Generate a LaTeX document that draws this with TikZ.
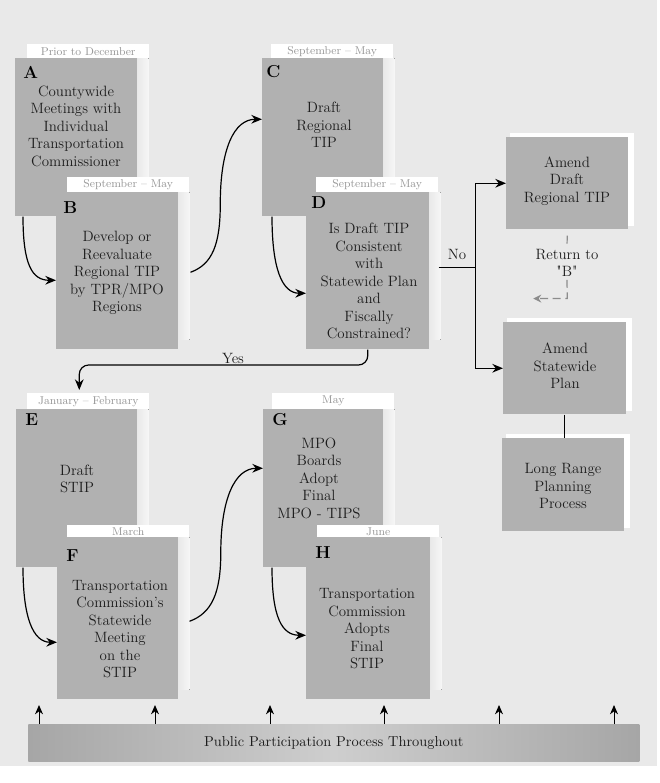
\documentclass[tikz,border=0pt]{standalone}
\usetikzlibrary{arrows.meta,calc}
\definecolor{bg}{RGB}{233,233,233}
\definecolor{boxgray}{RGB}{177,177,177}
\definecolor{txt}{RGB}{28,28,28}
\definecolor{tabtxt}{RGB}{150,150,150}
\definecolor{retgray}{RGB}{140,140,140}
\definecolor{bardark}{RGB}{166,166,166}
\definecolor{barlight}{RGB}{206,206,206}
\newcommand\rightglow[1]{\fill[shad] (#1.north east) rectangle ($(#1.south east)+(11,-10)$);}
\newcommand\backglow[1]{\fill[white] ($(#1.north west)+(4,-4)$) rectangle ($(#1.south east)+(5,-4)$);}
\begin{document}
\begin{tikzpicture}[x=0.75pt,y=-0.75pt,
  pbox/.style={fill=boxgray,draw=none,inner sep=0pt,anchor=north west},
  ptab/.style={fill=white,inner sep=0pt,anchor=north west,minimum width=91.5pt,text=tabtxt,font=\fontsize{8.5}{9}\selectfont},
  plabel/.style={font=\bfseries\fontsize{13}{15}\selectfont,text=black,inner sep=0pt,anchor=west},
  ptext/.style={align=center,inner sep=0pt,text=txt,font=\fontsize{11.2}{13.1}\selectfont},
  shad/.style={left color=bg,right color=white!60!bg,draw=none},
  arr/.style={-{Stealth[length=8pt,width=6.5pt]},line width=0.9pt,black},
  uparr/.style={-{Stealth[length=7pt,width=6pt]},line width=0.7pt,black},
  retline/.style={retgray,line width=0.9pt,dash pattern=on 6pt off 3.5pt}]
\useasboundingbox (0,0) rectangle (660,783);
\fill[bg] (0,0) rectangle (657,766);

% A
\node[ptab,minimum height=10.5pt] (At) at (27,44) {Prior to December};
\node[pbox,minimum width=91.5pt,minimum height=118.5pt] (A) at (15,58) {};
\rightglow{A}
\node[plabel] (la) at (23,72) {A};
\node[ptext] (Atx) at (76,126) {Countywide\\Meetings with\\Individual\\Transportation\\Commissioner};
% B
\node[ptab,minimum height=11.25pt] (Bt) at (67,177) {September -- May};
\node[pbox,minimum width=91.5pt,minimum height=117.75pt] (B) at (56,192) {};
\rightglow{B}
\node[plabel] (lb) at (63,208) {B};
\node[ptext] (Btx) at (117,273) {Develop or\\Reevaluate\\Regional TIP\\by TPR/MPO\\Regions};
% C
\node[ptab,minimum height=10.5pt] (Ct) at (271,44) {September -- May};
\node[pbox,minimum width=90.75pt,minimum height=118.5pt] (C) at (262,58) {};
\rightglow{C}
\node[plabel] (lc) at (266,72) {C};
\node[ptext] (Ctx) at (324,125) {Draft\\Regional\\TIP};
% D
\node[ptab,minimum height=11.25pt] (Dt) at (316,177) {September -- May};
\node[pbox,minimum width=92.25pt,minimum height=117.75pt] (D) at (306,192) {};
\rightglow{D}
\node[plabel] (ld) at (311,203) {D};
\node[ptext] (Dtx) at (369,281) {Is Draft TIP\\Consistent\\with\\Statewide Plan\\and\\Fiscally\\Constrained?};
% E
\node[ptab,minimum height=12pt] (Et) at (27,393) {January -- February};
\node[pbox,minimum width=90.75pt,minimum height=118.5pt] (E) at (16,409) {};
\rightglow{E}
\node[plabel] (le) at (25,420) {E};
\node[ptext] (Etx) at (77,479) {Draft\\STIP};
% F
\node[ptab,minimum height=9pt] (Ft) at (67,525) {March};
\node[pbox,minimum width=90.75pt,minimum height=121.5pt] (F) at (57,537) {};
\rightglow{F}
\node[plabel] (lf) at (66,556) {F};
\node[ptext] (Ftx) at (120,629) {Transportation\\Commission's\\Statewide\\Meeting\\on the\\STIP};
% G
\node[ptab,minimum height=12pt] (Gt) at (272,393) {May};
\node[pbox,minimum width=90pt,minimum height=118.5pt] (G) at (263,409) {};
\rightglow{G}
\node[plabel] (lg) at (272,420) {G};
\node[ptext] (Gtx) at (319,478) {MPO\\Boards\\Adopt\\Final\\MPO - TIPS};
% H
\node[ptab,minimum height=9pt] (Ht) at (317,525) {June};
\node[pbox,minimum width=93pt,minimum height=121.5pt] (H) at (306,537) {};
\rightglow{H}
\node[plabel] (lh) at (315,553) {H};
\node[ptext] (Htx) at (367,629) {Transportation\\Commission\\Adopts\\Final\\STIP};

% right column
\node[pbox,minimum width=91.5pt,minimum height=69pt] (AD) at (506,137) {};
\node[pbox,minimum width=92.25pt,minimum height=69pt] (AS) at (503,322) {};
\node[pbox,minimum width=91.5pt,minimum height=69.75pt] (LR) at (502,438) {};
\backglow{AD}\backglow{AS}\backglow{LR}
\node[pbox,minimum width=91.5pt,minimum height=69pt] at (506,137) {};
\node[pbox,minimum width=92.25pt,minimum height=69pt] at (503,322) {};
\node[pbox,minimum width=91.5pt,minimum height=69.75pt] at (502,438) {};
\node[ptext] (ADtx) at (567,181) {Amend\\Draft\\Regional TIP};
\node[ptext] (AStx) at (565,366) {Amend\\Statewide\\Plan};
\node[ptext] (LRtx) at (563,486) {Long Range\\Planning\\Process};

% bottom bar
\node[anchor=north west,inner sep=0pt,minimum width=458.25pt,minimum height=27.75pt,
  left color=bardark,right color=bardark,middle color=barlight,text=txt,
  font=\fontsize{10.8}{13}\selectfont] (P) at (28,724) {Public Participation Process Throughout};
\foreach \dx in {11,127,242,356,471,586}
  \draw[uparr] ($(P.north west)+(\dx,0)$) -- ++(0,-19);

% connectors
\draw[arr] ($(A.south west)+(8,0)$) .. controls +(0,48) and +(-24,0) .. ($(B.west)+(0,9.5)$);
\draw[arr] ($(B.east)+(12,1.5)$) .. controls +(22,-8) and +(0,40) .. ($(B.east)!0.5!(C.west)$)
  .. controls +(0,-55) and +(-28,0) .. ($(C.west)+(0,-18)$);
\draw[arr] ($(C.south west)+(10,0)$) .. controls +(0,52) and +(-24,0) .. ($(D.west)+(0,22.5)$);
\draw[arr] ($(E.south west)+(7,0)$) .. controls +(0,50) and +(-24,0) .. ($(F.west)+(0,24)$);
\draw[arr] ($(F.east)+(11,3)$) .. controls +(22,-8) and +(0,40) .. ($(F.east)!0.5!(G.west)$)
  .. controls +(0,-55) and +(-28,0) .. ($(G.west)+(0,-20)$);
\draw[arr] ($(G.south west)+(9,0)$) .. controls +(0,50) and +(-24,0) .. ($(H.west)+(0,17)$);

% No branch
\coordinate (nj) at ($(D.east)+(46,-3.5)$);
\draw[line width=0.9pt] ($(D.east)+(9,-3.5)$) -- (nj);
\draw[arr] (nj) |- (AD.west);
\draw[arr] (nj) |- (AS.west);
\node[ptext] (no) at (457,254) {No};

% Yes
\draw[arr,rounded corners=7pt] (D.south) |- ($(Et.north)+(-9,-28)$) -- ($(Et.north)+(-9,-3)$);
\node[ptext] (yes) at (233,358) {Yes};

% Return to B
\node[ptext,inner sep=2pt] (ret) at (567,263) {Return to\\\textquotedbl B\textquotedbl};
\draw[retline] ($(AD.south)+(0,6)$) -- (ret.north);
\coordinate (rc) at ($(AD.south)+(0,69)$);
\coordinate (re) at ($(rc)+(-34,0)$);
\draw[retline,-{Stealth[length=6pt,width=6pt]}] (ret.south) -- (rc) -- (re);

% statewide to long range
\draw[line width=0.9pt] (AS.south) -- (AS.south |- LR.north);
\end{tikzpicture}
\end{document}
